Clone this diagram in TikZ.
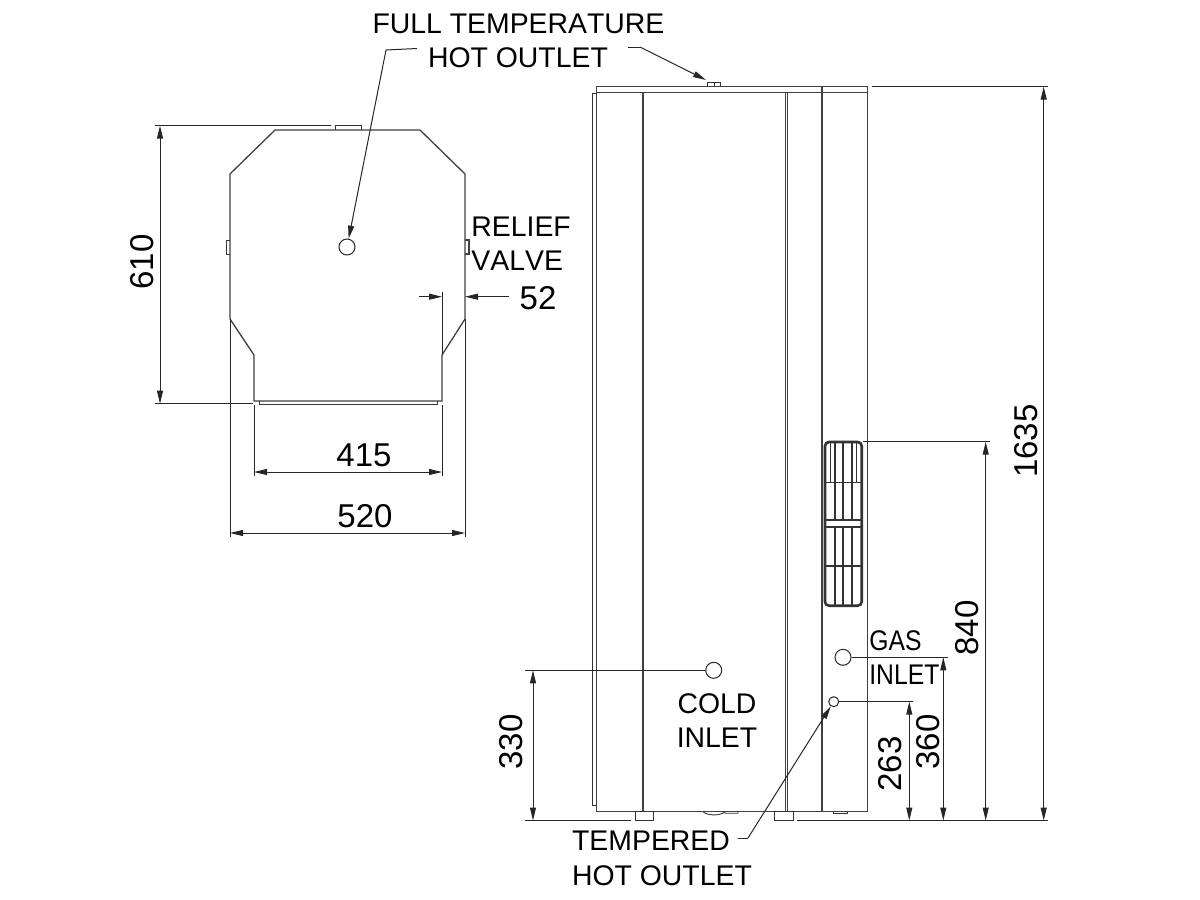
\documentclass[tikz,border=0pt]{standalone}
\usepackage{fontspec}
\setmainfont[Kerning=Off]{Liberation Sans}
\usetikzlibrary{arrows.meta,positioning}
\tikzset{
  body/.style={draw=black!75,line width=0.65pt},
  thinbody/.style={draw=black!80,line width=0.45pt},
  dimline/.style={draw=black!85,line width=0.5pt},
  dimarrow/.style={dimline,{Triangle[length=6.5pt,width=3pt]}-{Triangle[length=6.5pt,width=3pt]}},
  tiparrow/.style={dimline,-{Triangle[length=6.5pt,width=3pt]}},
  grillebar/.style={draw=black!80,line width=1pt},
  lab/.style={font=\fontsize{14.2}{16}\selectfont,inner sep=0pt},
  numlab/.style={font=\fontsize{16.5}{18}\selectfont,inner sep=0pt},
  port/.style={circle,draw=black!85,line width=0.5pt,fill=white,inner sep=0pt}
}
\begin{document}
\begin{tikzpicture}[x=0.5pt,y=-0.5pt]
   \useasboundingbox (0,0) rectangle (1200,900);
   % plan view
   \draw[body] (275,130) -- (420,130) -- (465,174) -- (465,319) -- (442,355) -- (442,401)
      -- (254,401) -- (254,355) -- (230,319) -- (230,174) -- cycle;
   \draw[thinbody] (335,130) -- (335,125.7) -- (361,125.7) -- (361,130);
   \draw[thinbody] (259,401) -- (259,404) -- (437,404) -- (437,401);
   \draw[thinbody] (230,240) -- (226.3,240) -- (226.3,254) -- (230,254);
   \draw[body] (465,240) -- (469,240) -- (469,254) -- (465,254);
   % side view
   \draw[body] (596.5,86.7) rectangle (867.7,92.3);
   \draw[thinbody] (707.7,86.7) -- (707.7,82) -- (720.7,82) -- (720.7,86.7) (714.5,82) -- (714.5,86.7);
   \draw[thinbody] (596.5,93.3) -- (592.4,93.3) -- (592.4,805.7) -- (596.5,805.7);
   \draw[body] (596.5,92.3) -- (596.5,811.7) -- (867.7,811.7) -- (867.7,92.3);
   \foreach \px in {643,785.3,787.6}
     \draw[body] (\px,92.3) -- (\px,811.7);
   \draw[body] (822,86.7) -- (822,811.7);
   \draw[thinbody] (635,811.7) rectangle (653.3,820);
   \draw[thinbody] (774.7,811.7) rectangle (793.3,820);
   \draw[thinbody] (703,811.7) .. controls (708,816) and (720,816) .. (725,811.7) -- (725,813.2) -- (738,813.2) -- (738,811.7);
   \draw[thinbody] (833,811.7) -- (833,813.2) -- (847,813.2) -- (847,811.7);
   % grille
   \draw[draw=black!80,line width=1.3pt,rounded corners=2pt] (825,442) rectangle (861.7,605.7);
   \foreach \px in {835,843.3,851.7} {
     \draw[grillebar] (\px,442) -- (\px,520);
     \draw[grillebar] (\px,526.7) -- (\px,605.7);
   }
   \foreach \px in {830,856.7}
     \draw[thinbody] (\px,442) -- (\px,482.3);
   \foreach \py in {482.3,520,526.7,565.7}
     \draw[grillebar,line width=0.8pt] (825,\py) -- (861.7,\py);
   % ports
   \node[port,minimum size=8pt] (topport) at (347,247) {};
   \node[port,minimum size=8pt] (coldport) at (713.7,670.3) {};
   \node[port,minimum size=8pt] (gasport) at (843,657.3) {};
   \node[port,minimum size=5pt] (temperedport) at (833.7,701.7) {};
   % labels
   \node[lab] (fulltemp) at (518.5,24) {FULL TEMPERATURE};
   \node[lab] (hotout) at (518,58) {HOT OUTLET};
   \node[lab,anchor=west] (relief) at (471,227) {RELIEF};
   \node[lab,anchor=west] (valve) at (471,261) {VALVE};
   \node[lab] (coldone) at (717,704) {COLD};
   \node[lab] (coldtwo) at (717,738) {INLET};
   \node[lab,anchor=west,xscale=0.87] (gasone) at (869,641) {GAS};
   \node[lab,anchor=west,xscale=0.87] (gastwo) at (869,675) {INLET};
   \node[lab] (tempered) at (651,841) {TEMPERED};
   \node[lab] (hotoutb) at (662,876) {HOT OUTLET};
   \node[numlab] (numfiftytwo) at (538,298) {52};
   \node[numlab] (numplanw) at (364,455) {415};
   \node[numlab] (numplano) at (365,516) {520};
   \node[numlab,rotate=90] (numdepth) at (142,262) {610};
   \node[numlab,rotate=90] (numcold) at (511,742) {330};
   \node[numlab,rotate=90] (numtemp) at (890,764) {263};
   \node[numlab,rotate=90] (numgas) at (928,742) {360};
   \node[numlab,rotate=90] (numgrille) at (967,628) {840};
   \node[numlab,rotate=90] (numheight) at (1026,441) {1635};
   % leaders
   \coordinate (leadtop) at (386,50);
   \coordinate (leadup) at (640,47);
   \coordinate (leadbot) at (748,838);
   \coordinate (stubtip) at (706,80);
   \draw[dimline] (417,48.5) -- (leadtop);
   \draw[tiparrow] (leadtop) -- (topport);
   \draw[dimline] (628,47) -- (leadup);
   \draw[tiparrow] (leadup) -- (stubtip);
   \draw[dimline] (738,838) -- (leadbot);
   \draw[tiparrow] (leadbot) -- (temperedport);
   % extension lines
   \draw[dimline] (155,125.7) -- (331,125.7);
   \draw[dimline] (155,403.7) -- (253,403.7);
   \draw[dimline] (254,405) -- (254,476);
   \draw[dimline] (442,405) -- (442,476);
   \draw[dimline] (230,319) -- (230,537);
   \draw[dimline] (465,319) -- (465,537);
   \draw[dimline] (442,292) -- (442,355);
   \draw[dimline] (525,820.5) -- (630.5,820.5);
   \draw[dimline] (797,820.5) -- (1048,820.5);
   \draw[dimline] (525,670.3) -- (coldport);
   \draw[dimline] (gasport) -- (947.7,657.3);
   \draw[dimline] (temperedport) -- (913,701.7);
   \draw[dimline] (863,441.7) -- (990,441.7);
   \draw[dimline] (871.7,86.7) -- (1048,86.7);
   % dimensions
   \draw[dimarrow] (160,125.7) -- (160,403.7);
   \draw[dimarrow] (254,472) -- (442,472);
   \draw[dimarrow] (230,533) -- (465,533);
   \draw[tiparrow] (419,296.7) -- (442,296.7);
   \draw[tiparrow] (509,296.7) -- (465,296.7);
   \draw[dimarrow] (533,670.3) -- (533,820.5);
   \draw[dimarrow] (909.3,701.7) -- (909.3,820.5);
   \draw[dimarrow] (943.3,657.3) -- (943.3,820.5);
   \draw[dimarrow] (985.7,441.7) -- (985.7,820.5);
   \draw[dimarrow] (1043.7,86.7) -- (1043.7,820.5);
\end{tikzpicture}
\end{document}
